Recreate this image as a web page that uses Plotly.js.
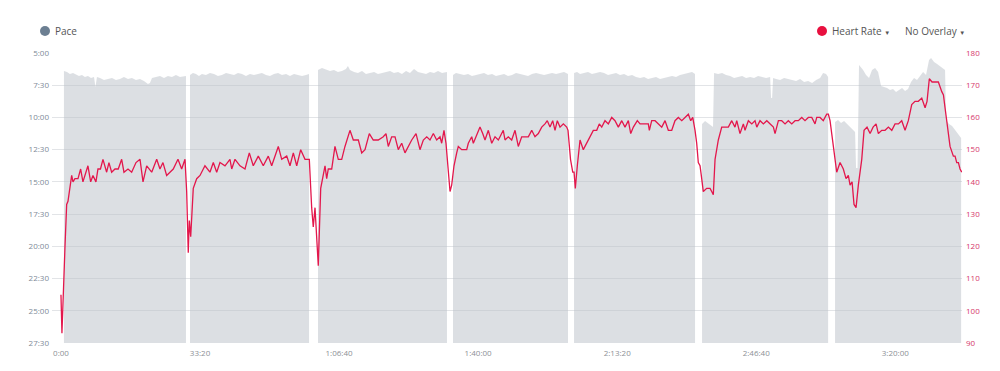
<!DOCTYPE html>
<html>
<head>
<meta charset="utf-8">
<script src="https://cdn.plot.ly/plotly-3.0.1.min.js"></script>
<style>
  html, body { margin: 0; padding: 0; background: #fff; }
  #chart { width: 1000px; height: 371px; }
</style>
</head>
<body>
<div id="chart"></div>
<script>
// ---- Axis ticks ----
const timeTickVals = [0, 2000, 4000, 6000, 8000, 10000, 12000];
const timeTickText = ['0:00', '33:20', '1:06:40', '1:40:00', '2:13:20', '2:46:40', '3:20:00'];
const paceTickVals = [300, 450, 600, 750, 900, 1050, 1200, 1350, 1500, 1650];
const paceTickText = ['5:00', '7:30', '10:00', '12:30', '15:00', '17:30', '20:00', '22:30', '25:00', '27:30'];
const hrTickVals = [90, 100, 110, 120, 130, 140, 150, 160, 170, 180];

// ---- Heart rate (elapsed seconds, bpm) ----
const hrTime = [0,14,58,82,101,154,173,201,245,283,316,345,388,427,460,503,532,568,604,657,690,729,777,824,873,906,964,1017,1079,1137,1180,1233,1305,1377,1424,1467,1520,1568,1615,1683,1736,1784,
1808,1831,1846,1866,1903,1952,2000,2071,2143,2191,2240,2287,2359,2431,2456,2503,2575,2647,2709,2766,2838,2910,2982,3031,3126,3175,3247,3294,3342,3391,3448,3510,3572,
3606,3629,3654,3678,3701,3736,3773,3798,3822,3845,3894,3941,3989,4038,4085,4118,4157,4205,4277,4326,4373,4435,4492,4564,4636,4675,4708,4757,4805,4852,4901,4948,4996,5045,5107,5164,5212,5261,5308,5356,5404,5452,5476,5509,5538,
5571,5596,5620,5653,5692,5715,5764,5836,5859,5908,5931,5970,6027,6066,6099,6147,6196,6243,6291,6315,6362,6387,6434,6483,6531,6578,6627,6675,6722,6771,6818,6866,6915,6962,6995,7034,7073,7106,7139,7178,7226,7274,7293,
7329,7361,7380,7398,7427,7466,7513,7562,7610,7657,7706,7743,7778,7825,7873,7922,7969,8017,8066,8113,8161,8195,8233,8290,8329,8401,8448,8463,8497,8545,8592,8641,8689,8736,8785,8832,8880,8929,8976,9024,9058,9087,
9120,9144,9167,9192,9216,9239,9288,9336,9360,9383,9408,9455,9504,9552,9599,9648,9695,9720,9767,9815,9839,9887,9936,9983,10008,10055,10103,10152,10199,10247,10271,10319,10367,10415,10462,10511,10559,10606,10655,10702,10750,10799,10846,10871,10918,10965,11014,11038,11062,
11101,11134,11158,11206,11253,11292,11325,11350,11379,11407,11436,11469,11518,11551,11594,11638,11681,11724,11757,11806,11853,11901,11950,11997,12045,12093,12141,12188,12237,12284,12332,12381,12429,12457,12490,12529,12572,12620,12669,12693,12716,12741,12788,12836,12860,12884,12908,12932,12957];
const hrBpm = [105,93,120,133,134,142,140,141,141,144,140,142,145,140,142,140,144,144,147,143,146,143,144,144,147,143,144,143,146,147,140,145,143,147,144,146,142,143,144,147,144,147,
137,118,128,123,138,141,142,145,143,146,143,146,145,147,144,147,145,144,149,145,148,145,148,145,151,147,148,145,149,145,150,147,147,
132,126,132,122,114,138,143,145,141,144,144,151,147,147,151,153,156,153,153,149,150,155,153,153,154,155,151,154,154,150,152,149,151,153,155,150,153,154,153,155,153,154,152,156,152,
144,137,139,145,149,151,150,150,152,154,152,154,157,155,153,156,152,154,153,154,156,153,154,153,156,151,154,154,154,156,154,155,157,158,159,157,159,156,159,157,158,157,156,
147,143,143,138,145,153,150,152,154,156,156,158,157,159,158,160,159,157,159,157,159,155,157,159,158,158,158,156,159,159,158,157,159,156,156,159,160,159,160,161,159,160,
156,152,146,145,141,137,138,138,137,136,147,153,157,157,157,159,157,159,155,158,156,159,158,159,157,159,158,159,158,157,155,159,159,158,159,158,159,159,160,159,160,160,158,160,160,159,161,161,159,
153,147,143,146,144,141,142,139,140,133,132,139,147,156,157,155,157,158,155,156,156,157,156,158,158,159,156,159,164,165,165,166,163,165,172,171,171,171,168,167,163,159,151,148,148,146,146,144,143];

// ---- Pace (elapsed seconds, seconds per km); 1650 = stopped, null = pause gap ----
const paceTime = [43,43,86,129,173,216,259,302,345,388,432,475,496,518,561,619,676,734,791,849,906,964,1021,1079,1136,1194,1251,1280,1309,1367,1424,1482,1539,1597,1654,1712,1769,1798,1798,null,
1856,1856,1899,1942,1985,2028,2086,2143,2201,2258,2316,2374,2431,2489,2546,2604,2661,2719,2776,2834,2891,2949,3006,3064,3122,3179,3237,3294,3352,3409,3467,3524,3568,3568,null,
3697,3697,3754,3812,3869,3927,3984,4042,4099,4128,4157,4215,4272,4330,4387,4445,4503,4560,4618,4675,4733,4790,4848,4905,4963,5020,5078,5135,5193,5251,5308,5366,5423,5481,5552,5552,null,
5639,5639,5682,5740,5797,5855,5912,5970,6027,6085,6142,6200,6257,6315,6373,6430,6488,6545,6603,6660,6718,6775,6833,6890,6948,7006,7063,7121,7178,7236,7293,7293,null,
7380,7380,7423,7466,7523,7581,7638,7696,7754,7811,7869,7926,7984,8041,8099,8156,8214,8271,8329,8387,8444,8502,8559,8617,8674,8732,8789,8847,8904,8962,9019,9077,9120,9120,null,
9221,9221,9264,9307,9351,9379,9394,9451,9509,9566,9624,9682,9739,9797,9854,9912,9969,10027,10085,10142,10200,10214,10229,10243,10286,10344,10401,10459,10516,10574,10631,10689,10747,10804,10862,10919,10962,11005,11034,11034,null,
11134,11134,11177,11220,11264,11307,11350,11393,11422,11436,11458,11479,11494,11537,11580,11623,11666,11710,11753,11796,11839,11882,11925,11968,12011,12054,12098,12141,12184,12227,12270,12313,12357,12400,12443,12486,12515,12558,12601,12644,12687,12716,12731,12773,12817,12860,12903,12947,12947];
const paceSec = [1650,384,388,398,393,402,407,402,412,407,416,412,458,412,416,426,421,416,426,421,412,421,416,426,421,430,444,440,416,412,407,416,407,412,402,412,407,407,1650,null,
1650,402,393,398,407,398,402,393,398,407,402,393,398,402,393,398,407,398,402,398,393,402,407,398,393,402,398,407,398,402,407,402,398,1650,null,
1650,379,370,379,384,379,388,384,374,361,379,388,393,384,398,393,388,398,393,388,384,393,388,398,384,393,374,388,393,398,388,393,384,393,388,1650,null,
1650,402,393,398,402,398,407,402,398,393,402,398,407,402,398,407,402,393,398,402,407,398,393,398,402,398,393,398,393,388,398,1650,null,
1650,393,388,398,393,388,398,393,388,393,402,398,393,402,398,407,402,412,416,412,421,416,412,421,416,412,407,412,402,398,393,388,398,1650,null,
1650,631,617,626,635,644,393,398,393,402,407,416,412,407,416,412,416,407,412,416,412,509,509,416,421,426,416,421,426,430,421,435,430,440,426,416,393,398,412,1650,null,
1650,621,612,626,617,631,649,663,668,835,835,356,361,379,402,416,379,370,388,454,458,463,472,468,482,472,463,477,468,435,416,426,407,388,402,333,323,342,351,361,370,379,612,631,640,658,677,696,1650];

const FONT = '"Open Sans", "Noto Sans", sans-serif';

const paceTrace = {
  type: 'scatter', mode: 'lines',
  x: paceTime, y: paceSec,
  fill: 'toself', fillcolor: 'rgba(186,192,199,0.5)',
  line: { width: 0, color: 'rgba(0,0,0,0)' },
  connectgaps: false, hoverinfo: 'skip', yaxis: 'y'
};
const hrTrace = {
  type: 'scatter', mode: 'lines',
  x: hrTime, y: hrBpm,
  line: { width: 1.3, color: '#e3174c' },
  hoverinfo: 'skip', yaxis: 'y2'
};

const legendY = 1 + 22 / 290;
const layout = {
  width: 1000, height: 371,
  margin: { l: 52, r: 38, t: 53, b: 28, pad: 0 },
  paper_bgcolor: '#ffffff', plot_bgcolor: '#ffffff',
  font: { family: FONT, color: '#555' },
  showlegend: false,
  xaxis: {
    range: [-129, 12960], tickvals: timeTickVals, ticktext: timeTickText,
    showgrid: false, zeroline: false, showline: false, ticks: '', ticklabelstandoff: 4,
    tickfont: { size: 8, color: '#8c9096', family: FONT }
  },
  yaxis: {
    range: [1650, 300], tickvals: paceTickVals, ticktext: paceTickText,
    showgrid: true, gridcolor: '#e2e4e7', gridwidth: 1, zeroline: false, showline: false, ticks: '',
    ticklabelstandoff: 2,
    tickfont: { size: 8, color: '#7e8a98', family: FONT }
  },
  yaxis2: {
    overlaying: 'y', side: 'right', range: [90, 180], tickvals: hrTickVals,
    showgrid: false, zeroline: false, showline: false, ticks: '', ticklabelstandoff: 3,
    tickfont: { size: 8, color: '#d6386a', family: FONT }
  },
  shapes: [
    { type: 'circle', xref: 'paper', yref: 'paper', xsizemode: 'pixel', ysizemode: 'pixel',
      xanchor: (45 - 52) / 910, yanchor: legendY, x0: -5, x1: 5, y0: -5, y1: 5,
      fillcolor: '#6c7f92', line: { width: 0 } },
    { type: 'circle', xref: 'paper', yref: 'paper', xsizemode: 'pixel', ysizemode: 'pixel',
      xanchor: (822 - 52) / 910, yanchor: legendY, x0: -5, x1: 5, y0: -5, y1: 5,
      fillcolor: '#e8103f', line: { width: 0 } }
  ],
  annotations: [
    { xref: 'paper', yref: 'paper', x: (53 - 52) / 910, y: legendY, xanchor: 'left', yanchor: 'middle',
      text: 'Pace', showarrow: false, font: { size: 10, color: '#555', family: FONT } },
    { xref: 'paper', yref: 'paper', x: (830 - 52) / 910, y: legendY, xanchor: 'left', yanchor: 'middle',
      text: 'Heart Rate <span style="font-size:6px">▼</span>', showarrow: false, font: { size: 10, color: '#555', family: FONT } },
    { xref: 'paper', yref: 'paper', x: (903 - 52) / 910, y: legendY, xanchor: 'left', yanchor: 'middle',
      text: 'No Overlay <span style="font-size:6px">▼</span>', showarrow: false, font: { size: 10, color: '#555', family: FONT } }
  ]
};

Plotly.newPlot('chart', [paceTrace, hrTrace], layout, { staticPlot: true, displayModeBar: false });
</script>
</body>
</html>
